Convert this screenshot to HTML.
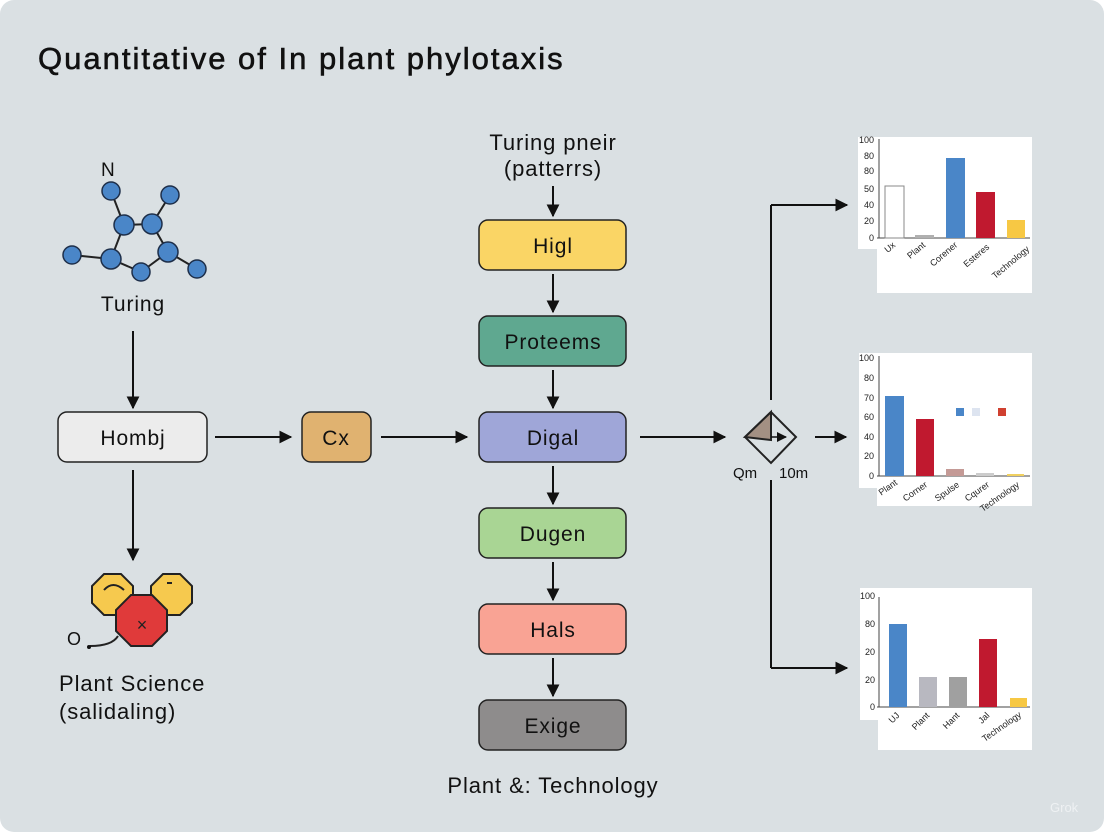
<!DOCTYPE html>
<html><head><meta charset="utf-8"><style>
html,body{margin:0;padding:0;background:#fff}
svg{display:block}
text{font-family:"Liberation Sans",sans-serif}
.l{letter-spacing:0.9px}
</style></head><body>
<svg width="1104" height="832" viewBox="0 0 1104 832" xmlns="http://www.w3.org/2000/svg">
<defs>
<marker id="a" viewBox="0 0 10 10" refX="9" refY="5" markerWidth="10" markerHeight="10" markerUnits="userSpaceOnUse" orient="auto"><path d="M0,0 L10,5 L0,10 z" fill="#111"/></marker>
<marker id="b" viewBox="0 0 10 10" refX="9" refY="5" markerWidth="13" markerHeight="13" markerUnits="userSpaceOnUse" orient="auto"><path d="M0,0 L10,5 L0,10 z" fill="#111"/></marker>
</defs>
<rect x="0" y="0" width="1104" height="832" rx="14" fill="#dae0e3"/>
<text x="38" y="69" font-size="31" fill="#111" stroke="#111" stroke-width="0.6" letter-spacing="2">Quantitative of In plant phylotaxis</text>

<!-- molecule -->
<g stroke="#222" stroke-width="2">
<line x1="111" y1="191" x2="124" y2="225"/><line x1="170" y1="195" x2="152" y2="224"/>
<line x1="124" y1="225" x2="152" y2="224"/><line x1="124" y1="225" x2="111" y2="259"/>
<line x1="152" y1="224" x2="168" y2="252"/><line x1="72" y1="255" x2="111" y2="259"/>
<line x1="111" y1="259" x2="141" y2="272"/><line x1="141" y1="272" x2="168" y2="252"/>
<line x1="168" y1="252" x2="197" y2="269"/>
</g>
<g fill="#4a86c8" stroke="#1e2f4a" stroke-width="1.5">
<circle cx="111" cy="191" r="9"/><circle cx="170" cy="195" r="9"/><circle cx="124" cy="225" r="10"/>
<circle cx="152" cy="224" r="10"/><circle cx="72" cy="255" r="9"/><circle cx="111" cy="259" r="10"/>
<circle cx="168" cy="252" r="10"/><circle cx="141" cy="272" r="9"/><circle cx="197" cy="269" r="9"/>
</g>
<text x="101" y="176" font-size="19" fill="#111">N</text>
<text class="l" x="133" y="311" font-size="21" fill="#111" text-anchor="middle">Turing</text>

<line x1="133" y1="331" x2="133" y2="408" stroke="#111" stroke-width="2" marker-end="url(#b)"/>
<rect x="58" y="412" width="149" height="50" rx="9" fill="#ececec" stroke="#222" stroke-width="1.5"/>
<text class="l" x="133" y="445" font-size="21" fill="#111" text-anchor="middle">Hombj</text>
<line x1="133" y1="470" x2="133" y2="560" stroke="#111" stroke-width="2" marker-end="url(#b)"/>

<!-- octagons -->
<polygon points="104,574 121,574 133,586 133,603 121,615 104,615 92,603 92,586" fill="#f6c94e" stroke="#222" stroke-width="2"/>
<polygon points="163,574 180,574 192,586 192,603 180,615 163,615 151,603 151,586" fill="#f6c94e" stroke="#222" stroke-width="2"/>
<polygon points="131,595 152,595 167,610 167,631 152,646 131,646 116,631 116,610" fill="#e03a3a" stroke="#222" stroke-width="2"/>
<path d="M104,590 Q113,580 124,590" stroke="#222" stroke-width="2" fill="none"/>
<line x1="167" y1="583" x2="172" y2="583" stroke="#222" stroke-width="2"/>
<text x="142" y="631" font-size="18" fill="#222" text-anchor="middle">×</text>
<path d="M118,636 Q112,646 90,646" stroke="#222" stroke-width="2" fill="none"/>
<text x="67" y="645" font-size="18" fill="#111">O</text>
<circle cx="89" cy="647" r="2" fill="#111"/>
<text class="l" x="59" y="691" font-size="22" fill="#111">Plant Science</text>
<text class="l" x="59" y="719" font-size="22" fill="#111">(salidaling)</text>

<!-- horizontal flow -->
<line x1="215" y1="437" x2="291" y2="437" stroke="#111" stroke-width="2" marker-end="url(#b)"/>
<rect x="302" y="412" width="69" height="50" rx="9" fill="#e0b270" stroke="#222" stroke-width="1.5"/>
<text class="l" x="336" y="445" font-size="21" fill="#111" text-anchor="middle">Cx</text>
<line x1="381" y1="437" x2="467" y2="437" stroke="#111" stroke-width="2" marker-end="url(#b)"/>

<!-- center column -->
<text class="l" x="553" y="150" font-size="22" fill="#111" text-anchor="middle">Turing pneir</text>
<text class="l" x="553" y="176" font-size="22" fill="#111" text-anchor="middle">(patterrs)</text>
<line x1="553" y1="186" x2="553" y2="216" stroke="#111" stroke-width="2" marker-end="url(#b)"/>
<g stroke="#222" stroke-width="1.5">
<rect x="479" y="220" width="147" height="50" rx="9" fill="#fad565"/>
<rect x="479" y="316" width="147" height="50" rx="9" fill="#5fa890"/>
<rect x="479" y="412" width="147" height="50" rx="9" fill="#9fa6d8"/>
<rect x="479" y="508" width="147" height="50" rx="9" fill="#a9d594"/>
<rect x="479" y="604" width="147" height="50" rx="9" fill="#f9a394"/>
<rect x="479" y="700" width="147" height="50" rx="9" fill="#8e8c8c"/>
</g>
<g class="l" font-size="21" fill="#111" text-anchor="middle">
<text x="553" y="253">Higl</text><text x="553" y="349">Proteems</text><text x="553" y="445">Digal</text>
<text x="553" y="541">Dugen</text><text x="553" y="637">Hals</text><text x="553" y="733">Exige</text>
</g>
<g stroke="#111" stroke-width="2">
<line x1="553" y1="274" x2="553" y2="312" marker-end="url(#b)"/>
<line x1="553" y1="370" x2="553" y2="408" marker-end="url(#b)"/>
<line x1="553" y1="466" x2="553" y2="504" marker-end="url(#b)"/>
<line x1="553" y1="562" x2="553" y2="600" marker-end="url(#b)"/>
<line x1="553" y1="658" x2="553" y2="696" marker-end="url(#b)"/>
</g>
<text class="l" x="553" y="793" font-size="22" fill="#111" text-anchor="middle">Plant &amp;: Technology</text>

<!-- right connector -->
<line x1="640" y1="437" x2="725" y2="437" stroke="#111" stroke-width="2" marker-end="url(#b)"/>
<polygon points="771,412 745,437 771,463 796,437" fill="none" stroke="#222" stroke-width="2"/>
<polygon points="771,412 745,437 771,440" fill="#a39083" stroke="#222" stroke-width="2"/>
<line x1="771" y1="437" x2="786" y2="437" stroke="#111" stroke-width="1.5" marker-end="url(#a)"/>
<line x1="771" y1="205" x2="771" y2="400" stroke="#111" stroke-width="2"/>
<line x1="771" y1="205" x2="847" y2="205" stroke="#111" stroke-width="2" marker-end="url(#b)"/>
<line x1="771" y1="480" x2="771" y2="668" stroke="#111" stroke-width="2"/>
<line x1="771" y1="668" x2="847" y2="668" stroke="#111" stroke-width="2" marker-end="url(#b)"/>
<line x1="815" y1="437" x2="846" y2="437" stroke="#111" stroke-width="2" marker-end="url(#b)"/>
<text x="733" y="478" font-size="15" fill="#111">Qm</text>
<text x="779" y="478" font-size="15" fill="#111">10m</text>

<!-- chart 1 -->
<rect x="858" y="137" width="174" height="112" fill="#fff"/>
<rect x="877" y="249" width="155" height="44" fill="#fff"/>
<g font-size="9" fill="#222" text-anchor="end">
<text x="874" y="143">100</text><text x="874" y="159">80</text><text x="874" y="174">80</text>
<text x="874" y="192">50</text><text x="874" y="208">40</text><text x="874" y="224">20</text><text x="874" y="241">0</text>
</g>
<line x1="879" y1="139" x2="879" y2="238" stroke="#444"/>
<line x1="877" y1="238" x2="1030" y2="238" stroke="#444"/>
<rect x="885" y="186" width="19" height="52" fill="#fff" stroke="#888"/>
<rect x="915" y="235" width="19" height="3" fill="#b0b0b0"/>
<rect x="946" y="158" width="19" height="80" fill="#4a86c8"/>
<rect x="976" y="192" width="19" height="46" fill="#c0192f"/>
<rect x="1007" y="220" width="18" height="18" fill="#f7c844"/>
<g font-size="9" fill="#222" text-anchor="end">
<text transform="translate(896,246) rotate(-40)">Ux</text>
<text transform="translate(926,246) rotate(-40)">Plant</text>
<text transform="translate(958,246) rotate(-40)">Corener</text>
<text transform="translate(990,248) rotate(-40)">Esteres</text>
<text transform="translate(1030,250) rotate(-40)">Technology</text>
</g>

<!-- chart 2 -->
<rect x="859" y="353" width="173" height="135" fill="#fff"/>
<rect x="877" y="488" width="155" height="18" fill="#fff"/>
<g font-size="9" fill="#222" text-anchor="end">
<text x="874" y="361">100</text><text x="874" y="381">80</text><text x="874" y="401">70</text>
<text x="874" y="420">60</text><text x="874" y="440">40</text><text x="874" y="459">20</text><text x="874" y="479">0</text>
</g>
<line x1="879" y1="356" x2="879" y2="476" stroke="#444"/>
<line x1="877" y1="476" x2="1030" y2="476" stroke="#444"/>
<rect x="885" y="396" width="19" height="80" fill="#4a86c8"/>
<rect x="916" y="419" width="18" height="57" fill="#c0192f"/>
<rect x="946" y="469" width="18" height="7" fill="#c49a96"/>
<rect x="976" y="473" width="18" height="3" fill="#cccccc"/>
<rect x="1007" y="474" width="17" height="2" fill="#f0d060"/>
<rect x="956" y="408" width="8" height="8" fill="#4a86c8"/>
<rect x="972" y="408" width="8" height="8" fill="#dde4f0"/>
<rect x="998" y="408" width="8" height="8" fill="#d04030"/>
<g font-size="9" fill="#222" text-anchor="end">
<text transform="translate(898,484) rotate(-35)">Plant</text>
<text transform="translate(928,486) rotate(-35)">Corner</text>
<text transform="translate(960,486) rotate(-35)">Spulse</text>
<text transform="translate(990,486) rotate(-35)">Cqurer</text>
<text transform="translate(1020,486) rotate(-35)">Technology</text>
</g>

<!-- chart 3 -->
<rect x="860" y="588" width="172" height="132" fill="#fff"/>
<rect x="878" y="720" width="154" height="30" fill="#fff"/>
<g font-size="9" fill="#222" text-anchor="end">
<text x="875" y="599">100</text><text x="875" y="627">80</text><text x="875" y="655">20</text>
<text x="875" y="683">20</text><text x="875" y="710">0</text>
</g>
<line x1="879" y1="597" x2="879" y2="707" stroke="#444"/>
<line x1="877" y1="707" x2="1030" y2="707" stroke="#444"/>
<rect x="889" y="624" width="18" height="83" fill="#4a86c8"/>
<rect x="919" y="677" width="18" height="30" fill="#b8b8c0"/>
<rect x="949" y="677" width="18" height="30" fill="#a0a0a0"/>
<rect x="979" y="639" width="18" height="68" fill="#c0192f"/>
<rect x="1010" y="698" width="17" height="9" fill="#f7c844"/>
<g font-size="9" fill="#222" text-anchor="end">
<text transform="translate(900,716) rotate(-45)">UJ</text>
<text transform="translate(930,716) rotate(-45)">Plant</text>
<text transform="translate(960,716) rotate(-45)">Hant</text>
<text transform="translate(990,716) rotate(-45)">Jal</text>
<text transform="translate(1022,716) rotate(-35)">Technology</text>
</g>
<text x="1050" y="812" font-size="13" fill="#eef1f3">Grok</text>
</svg>
</body></html>
